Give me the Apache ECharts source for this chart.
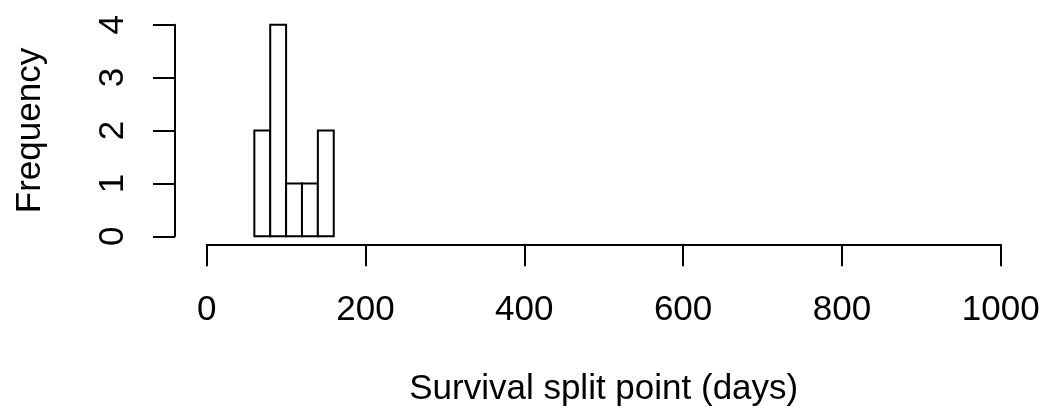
<!DOCTYPE html>
<html>
<head>
<meta charset="utf-8">
<script src="https://cdn.jsdelivr.net/npm/echarts@6/dist/echarts.min.js"></script>
<style>
  html, body { margin: 0; padding: 0; background: #fff; }
  #chart { width: 1044px; height: 415px; }
</style>
</head>
<body>
<div id="chart"></div>
<script>
// Histogram bins (days) and their counts
const binStarts = [60, 80, 100, 120, 140];
const binEnds = [80, 100, 120, 140, 160];
const counts = [2, 4, 1, 1, 2];
const xTicks = [0, 200, 400, 600, 800, 1000];
const yTicks = [0, 1, 2, 3, 4];

const FONT = 'Liberation Sans, Arial, sans-serif';
const FS = 35;
const bins = binStarts.map((s, i) => [s, binEnds[i], counts[i]]);

const chart = echarts.init(document.getElementById('chart'), null, { renderer: 'canvas' });
chart.setOption({
  animation: false,
  backgroundColor: '#ffffff',
  grid: { left: 206.7, right: 43.3, top: 24.7, bottom: 178.7 },
  xAxis: {
    type: 'value',
    min: xTicks[0],
    max: xTicks[xTicks.length - 1],
    interval: 200,
    offset: 8,
    name: 'Survival split point (days)',
    nameLocation: 'middle',
    nameGap: 128,
    nameTextStyle: { color: '#000', fontSize: FS, fontFamily: FONT },
    axisLine: { show: true, onZero: false, lineStyle: { color: '#000', width: 2 } },
    axisTick: { show: true, length: 22, lineStyle: { color: '#000', width: 2 } },
    axisLabel: { color: '#000', fontSize: FS, fontFamily: FONT, margin: 49,
                 formatter: v => String(v) },
    splitLine: { show: false }
  },
  yAxis: {
    type: 'value',
    min: yTicks[0],
    max: yTicks[yTicks.length - 1],
    interval: 1,
    offset: 31.7,
    name: 'Frequency',
    nameLocation: 'middle',
    nameGap: 127,
    nameRotate: 90,
    nameTextStyle: { color: '#000', fontSize: FS, fontFamily: FONT },
    axisLine: { show: true, onZero: false, lineStyle: { color: '#000', width: 2 } },
    axisTick: { show: true, length: 22, lineStyle: { color: '#000', width: 2 } },
    axisLabel: { color: '#000', fontSize: FS, fontFamily: FONT, margin: 44, rotate: 90 },
    splitLine: { show: false }
  },
  series: [{
    type: 'custom',
    data: bins,
    encode: { x: [0, 1], y: 2 },
    clip: false,
    renderItem: function (params, api) {
      const p0 = api.coord([api.value(0), api.value(2)]);
      const p1 = api.coord([api.value(1), 0]);
      return {
        type: 'rect',
        shape: { x: p0[0], y: p0[1], width: p1[0] - p0[0], height: p1[1] - p0[1] },
        style: { fill: '#ffffff', stroke: '#000000', lineWidth: 2 }
      };
    }
  }]
});
</script>
</body>
</html>
